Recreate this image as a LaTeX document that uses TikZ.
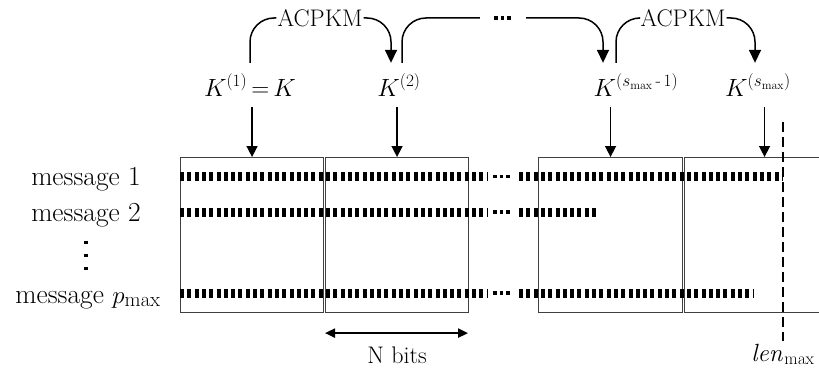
\documentclass[tikz,border=0pt]{standalone}
\usepackage{amsmath}
\usetikzlibrary{arrows.meta,calc}
\begin{document}
\begin{tikzpicture}[x=1pt,y=-1pt,
  font=\fontsize{24}{28}\selectfont,
  box/.style={draw=black!75, line width=1.1pt, minimum height=155pt, inner sep=0pt, anchor=north west},
  bits/.style={line width=9pt, dash pattern=on 4pt off 3.3pt},
  sdots/.style={line width=3.5pt, dash pattern=on 3.5pt off 3pt},
  link/.style={line width=1.5pt, rounded corners=24pt},
  arr/.style={line width=1.5pt, -{Triangle[width=12pt,length=13pt]}},
  varr/.style={line width=1.5pt, -{Triangle[width=11pt,length=11pt]}},
  klab/.style={anchor=base, inner xsep=2pt, inner ysep=11pt, font=\fontsize{25}{28}\selectfont},
  msg/.style={anchor=base, inner sep=0pt, font=\fontsize{27.5}{30}\selectfont}]
\clip (0,0) rectangle (819,369);
\useasboundingbox (0,0) rectangle (819,369);

% boxes
\node[box, minimum width=143pt] (b1) at (180,157) {};
\node[box, minimum width=143pt] (b2) at (325,157) {};
\node[box, minimum width=144pt] (b3) at (538,157) {};
\node[box, minimum width=160pt] (b4) at (684,157) {};

% key labels
\node[klab] (k1) at (250,96) {$K^{(1)}\,{=}\,K$};
\node[klab] (k2) at (399,96) {$K^{(2)}$};
\node[klab] (k3) at (636,96) {$K^{(s_{\max}\,\text{-}\,1)}$};
\node[klab] (k4) at (758,96) {$K^{(s_{\max})}$};

% top row
\node[inner sep=1pt] (acp1) at (320,18) {ACPKM};
\node[inner sep=1pt] (acp2) at (683,18) {ACPKM};
\node[minimum width=46pt, inner sep=0pt] (tdots) at (503,18) {};
\draw[sdots] (494,18) -- (511,18);

\draw[link] (k1.north) |- (acp1.west);
\draw[link, arr] (acp1.east) -| ($(k2.north)+(-8,0)$);
\draw[link] ($(k2.north)+(3,0)$) |- (tdots.west);
\draw[link, arr] (tdots.east) -| ($(k3.north)+(-33,0)$);
\draw[link] ($(k3.north)+(-20,0)$) |- (acp2.west);
\draw[link, arr] (acp2.east) -| ($(k4.north)+(-3,0)$);

% arrows into boxes
\draw[varr] (b1.north |- k1.south) -- (b1.north);
\draw[varr] (b2.north |- k2.south) -- (b2.north);
\draw[varr] (b3.north |- k3.south) -- (b3.north);
\draw[varr] (b4.north |- k4.south) -- (b4.north);

% messages
\node[msg] (m1) at (86,185) {message 1};
\node[msg] (m2) at (86,221) {message 2};
\node[msg] (mp) at (88,303) {message $p_{\max}$};
\draw[line width=3.3pt, dash pattern=on 3.3pt off 10pt] (86,240.5) -- (86,272);

% bit rows
\draw[bits] (180,176.5) -- (488,176.5);
\draw[bits] (519,176.5) -- (783,176.5);
\draw[sdots] (493,176.5) -- (510,176.5);
\draw[bits] (180,212) -- (488,212);
\draw[bits] (519,212) -- (598,212);
\draw[sdots] (493,212) -- (510,212);
\draw[bits] (180,293) -- (488,293);
\draw[bits] (519,293) -- (753,293);
\draw[sdots] (493,293) -- (510,293);

% len max
\node[anchor=base, inner sep=3pt] (len) at (783,361) {$\mathit{len}_{\max}$};
\coordinate (lentop) at (783,122);
\draw[line width=1.5pt, dash pattern=on 10pt off 5pt] (lentop) -- (len.north);

% N bits
\draw[line width=2pt, {Triangle[width=9pt,length=10pt]}-{Triangle[width=9pt,length=10pt]}]
  ($(b2.south west)+(0,20)$) -- ($(b2.south east)+(-1,20)$);
\node (nb) at ($(b2.south)+(0,42)$) {N bits};
\end{tikzpicture}
\end{document}
